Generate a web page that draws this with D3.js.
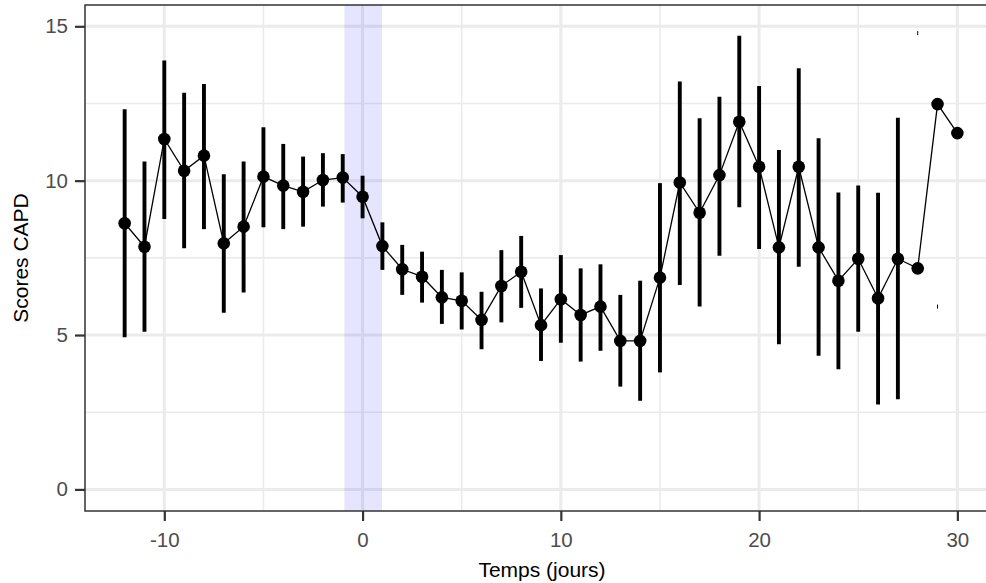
<!DOCTYPE html>
<html>
<head>
<meta charset="utf-8">
<script src="https://cdn.jsdelivr.net/npm/d3@7"></script>
<style>
  html, body { margin: 0; padding: 0; background: #fff; }
  svg { display: block; font-family: "Liberation Sans", Arial, Helvetica, sans-serif; }
</style>
</head>
<body>
<svg id="chart" width="986" height="583"></svg>
<script>
// ---- data ----
const days = [-12,-11,-10,-9,-8,-7,-6,-5,-4,-3,-2,-1,0,1,2,3,4,5,6,7,8,9,10,11,12,13,14,15,16,17,18,19,20,21,22,23,24,25,26,27,28,29,30];
const means = [8.62,7.86,11.35,10.32,10.81,7.97,8.51,10.13,9.84,9.64,10.02,10.10,9.48,7.88,7.13,6.89,6.22,6.11,5.49,6.59,7.05,5.32,6.16,5.65,5.92,4.81,4.81,6.86,9.94,8.96,10.18,11.91,10.45,7.84,10.45,7.84,6.76,7.47,6.19,7.47,7.16,12.48,11.54];
const upper = [12.31,10.62,13.89,12.85,13.13,10.21,10.62,11.73,11.19,10.78,10.89,10.86,10.16,8.65,7.92,7.70,7.11,7.03,6.40,7.75,8.21,6.51,7.59,7.16,7.29,6.30,6.76,9.92,13.21,12.02,12.72,14.69,13.07,10.99,13.64,11.37,9.62,9.84,9.61,12.04,null,null,null];
const lower = [4.93,5.11,8.76,7.81,8.43,5.72,6.38,8.49,8.43,8.51,9.16,9.29,8.78,7.11,6.30,6.05,5.36,5.18,4.54,5.41,5.88,4.16,4.75,4.14,4.49,3.33,2.87,3.79,6.62,5.92,7.57,9.14,7.79,4.70,7.21,4.33,3.89,5.11,2.75,2.92,null,null,null];
// tiny isolated error-bar ends visible in the picture
const stubDays = [28, 29];
const stubValues = [14.78, 5.92];
// shaded intervention window
const shadeStart = -0.92;
const shadeEnd = 0.98;
const xTicks = [-10, 0, 10, 20, 30];
const xMinor = [-15, -5, 5, 15, 25];
const yTicks = [0, 5, 10, 15];
const yMinor = [2.5, 7.5, 12.5];
const xTitle = "Temps (jours)";
const yTitle = "Scores CAPD";

// ---- layout ----
const svg = d3.select("#chart");
const L = 85, R = 999, T = 5, B = 511;
const x = d3.scaleLinear().domain([-14.0, 32.1]).range([L, R]);
const y = d3.scaleLinear().domain([-0.70, 15.69]).range([B, T]);

const panel = svg.append("g");
panel.append("rect").attr("x", L).attr("y", T).attr("width", R - L).attr("height", B - T).attr("fill", "#fff");

// grid
const inX = v => x(v) > L && x(v) < R;
panel.selectAll(".gxm").data(xMinor.filter(inX)).join("line")
  .attr("x1", d => x(d)).attr("x2", d => x(d)).attr("y1", T).attr("y2", B)
  .attr("stroke", "#ebebeb").attr("stroke-width", 1.6);
panel.selectAll(".gym").data(yMinor).join("line")
  .attr("x1", L).attr("x2", R).attr("y1", d => y(d)).attr("y2", d => y(d))
  .attr("stroke", "#ebebeb").attr("stroke-width", 1.6);
panel.selectAll(".gx").data(xTicks).join("line")
  .attr("x1", d => x(d)).attr("x2", d => x(d)).attr("y1", T).attr("y2", B)
  .attr("stroke", "#ebebeb").attr("stroke-width", 3);
panel.selectAll(".gy").data(yTicks).join("line")
  .attr("x1", L).attr("x2", R).attr("y1", d => y(d)).attr("y2", d => y(d))
  .attr("stroke", "#ebebeb").attr("stroke-width", 3);

// shade
panel.append("rect")
  .attr("x", x(shadeStart)).attr("width", x(shadeEnd) - x(shadeStart))
  .attr("y", T).attr("height", B - T)
  .attr("fill", "blue").attr("fill-opacity", 0.1);

const data = days.map((d, i) => ({ d, m: means[i], u: upper[i], l: lower[i] }));

// error bars
panel.selectAll(".eb").data(data.filter(e => e.u != null)).join("line")
  .attr("x1", e => x(e.d)).attr("x2", e => x(e.d))
  .attr("y1", e => y(e.u)).attr("y2", e => y(e.l))
  .attr("stroke", "#000").attr("stroke-width", 3.9);

// stubs
panel.selectAll(".stub").data(stubDays.map((d, i) => ({ d, v: stubValues[i] }))).join("line")
  .attr("x1", s => x(s.d)).attr("x2", s => x(s.d))
  .attr("y1", s => y(s.v) - 2).attr("y2", s => y(s.v) + 2)
  .attr("stroke", "#000").attr("stroke-width", 1);

// line
panel.append("path").datum(data)
  .attr("d", d3.line().x(e => x(e.d)).y(e => y(e.m)))
  .attr("fill", "none").attr("stroke", "#000").attr("stroke-width", 1.3);

// points
panel.selectAll(".pt").data(data).join("circle")
  .attr("cx", e => x(e.d)).attr("cy", e => y(e.m)).attr("r", 6.3)
  .attr("fill", "#000");

// border
svg.append("rect").attr("x", L).attr("y", T).attr("width", R - L).attr("height", B - T)
  .attr("fill", "none").attr("stroke", "#333").attr("stroke-width", 1.5);

// axes
const xAxis = svg.append("g").attr("transform", `translate(0,${B})`)
  .call(d3.axisBottom(x).tickValues(xTicks).tickSize(10).tickPadding(11).tickFormat(d3.format("d")));
const yAxis = svg.append("g").attr("transform", `translate(${L},0)`)
  .call(d3.axisLeft(y).tickValues(yTicks).tickSize(10).tickPadding(7).tickFormat(d3.format("d")));
[xAxis, yAxis].forEach(a => {
  a.select(".domain").remove();
  a.selectAll(".tick line").attr("stroke", "#333").attr("stroke-width", 2.2);
  a.selectAll(".tick text").attr("fill", "#4d4d4d").attr("font-size", 20.5)
    .attr("font-family", "'Liberation Sans', Arial, sans-serif");
});
xAxis.selectAll(".tick text").text(d => d < 0 ? "-" + Math.abs(d) : d);

// titles
svg.append("text").attr("x", (L + R) / 2).attr("y", 577).attr("text-anchor", "middle")
  .attr("font-size", 21).attr("fill", "#000").text(xTitle);
svg.append("text").attr("transform", `translate(28,${(T + B) / 2}) rotate(-90)`)
  .attr("text-anchor", "middle").attr("font-size", 21).attr("fill", "#000").text(yTitle);
</script>
</body>
</html>
